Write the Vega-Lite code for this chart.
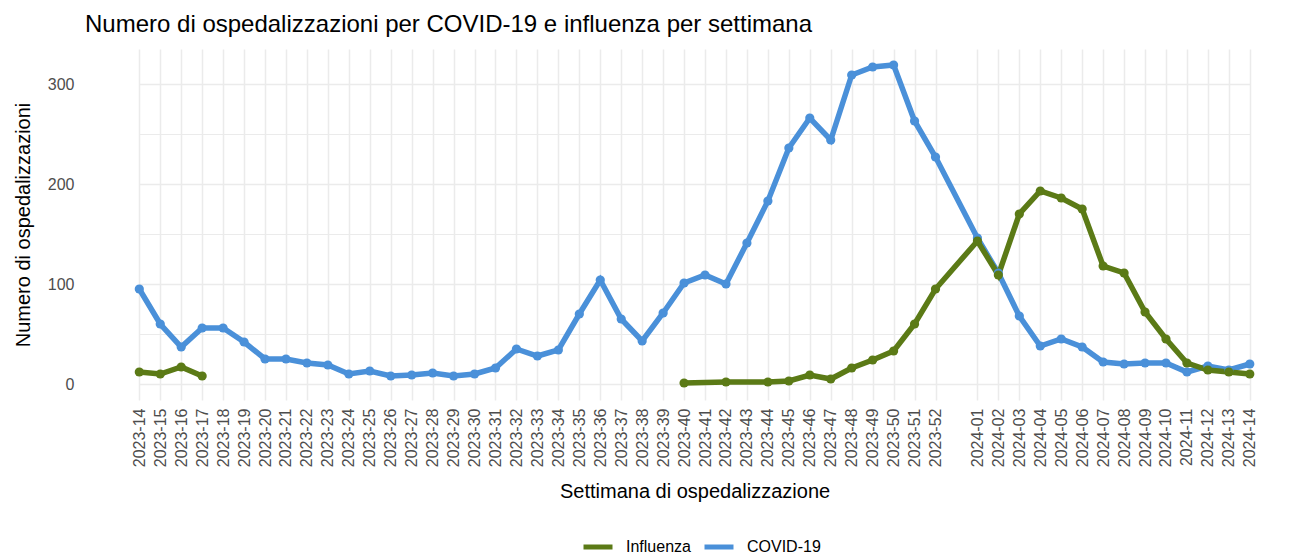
{
  "$schema": "https://vega.github.io/schema/vega-lite/v6.json",
  "width": 1219,
  "height": 351,
  "autosize": {"type": "none"},
  "padding": {"left": 85, "top": 49, "right": 0, "bottom": 154},
  "background": "white",
  "config": {"font": "Liberation Sans", "view": {"stroke": null}},
  "title": {"text": "Numero di ospedalizzazioni per COVID-19 e influenza per settimana", "anchor": "start", "fontSize": 24, "fontWeight": "normal", "font": "Liberation Sans", "color": "black", "offset": 12, "frame": "group"},
  "data": {"values": [
    {"settimana": "2023-14", "tipo": "COVID-19", "n": 95},
    {"settimana": "2023-15", "tipo": "COVID-19", "n": 60},
    {"settimana": "2023-16", "tipo": "COVID-19", "n": 37},
    {"settimana": "2023-17", "tipo": "COVID-19", "n": 56},
    {"settimana": "2023-18", "tipo": "COVID-19", "n": 56},
    {"settimana": "2023-19", "tipo": "COVID-19", "n": 42},
    {"settimana": "2023-20", "tipo": "COVID-19", "n": 25},
    {"settimana": "2023-21", "tipo": "COVID-19", "n": 25},
    {"settimana": "2023-22", "tipo": "COVID-19", "n": 21},
    {"settimana": "2023-23", "tipo": "COVID-19", "n": 19},
    {"settimana": "2023-24", "tipo": "COVID-19", "n": 10},
    {"settimana": "2023-25", "tipo": "COVID-19", "n": 13},
    {"settimana": "2023-26", "tipo": "COVID-19", "n": 8},
    {"settimana": "2023-27", "tipo": "COVID-19", "n": 9},
    {"settimana": "2023-28", "tipo": "COVID-19", "n": 11},
    {"settimana": "2023-29", "tipo": "COVID-19", "n": 8},
    {"settimana": "2023-30", "tipo": "COVID-19", "n": 10},
    {"settimana": "2023-31", "tipo": "COVID-19", "n": 16},
    {"settimana": "2023-32", "tipo": "COVID-19", "n": 35},
    {"settimana": "2023-33", "tipo": "COVID-19", "n": 28},
    {"settimana": "2023-34", "tipo": "COVID-19", "n": 34},
    {"settimana": "2023-35", "tipo": "COVID-19", "n": 70},
    {"settimana": "2023-36", "tipo": "COVID-19", "n": 104},
    {"settimana": "2023-37", "tipo": "COVID-19", "n": 65},
    {"settimana": "2023-38", "tipo": "COVID-19", "n": 43},
    {"settimana": "2023-39", "tipo": "COVID-19", "n": 71},
    {"settimana": "2023-40", "tipo": "COVID-19", "n": 101},
    {"settimana": "2023-41", "tipo": "COVID-19", "n": 109},
    {"settimana": "2023-42", "tipo": "COVID-19", "n": 100},
    {"settimana": "2023-43", "tipo": "COVID-19", "n": 141},
    {"settimana": "2023-44", "tipo": "COVID-19", "n": 183},
    {"settimana": "2023-45", "tipo": "COVID-19", "n": 236},
    {"settimana": "2023-46", "tipo": "COVID-19", "n": 266},
    {"settimana": "2023-47", "tipo": "COVID-19", "n": 244},
    {"settimana": "2023-48", "tipo": "COVID-19", "n": 309},
    {"settimana": "2023-49", "tipo": "COVID-19", "n": 317},
    {"settimana": "2023-50", "tipo": "COVID-19", "n": 319},
    {"settimana": "2023-51", "tipo": "COVID-19", "n": 263},
    {"settimana": "2023-52", "tipo": "COVID-19", "n": 227},
    {"settimana": "2024-01", "tipo": "COVID-19", "n": 146},
    {"settimana": "2024-02", "tipo": "COVID-19", "n": 111},
    {"settimana": "2024-03", "tipo": "COVID-19", "n": 68},
    {"settimana": "2024-04", "tipo": "COVID-19", "n": 38},
    {"settimana": "2024-05", "tipo": "COVID-19", "n": 45},
    {"settimana": "2024-06", "tipo": "COVID-19", "n": 37},
    {"settimana": "2024-07", "tipo": "COVID-19", "n": 22},
    {"settimana": "2024-08", "tipo": "COVID-19", "n": 20},
    {"settimana": "2024-09", "tipo": "COVID-19", "n": 21},
    {"settimana": "2024-10", "tipo": "COVID-19", "n": 21},
    {"settimana": "2024-11", "tipo": "COVID-19", "n": 12},
    {"settimana": "2024-12", "tipo": "COVID-19", "n": 18},
    {"settimana": "2024-13", "tipo": "COVID-19", "n": 14},
    {"settimana": "2024-14", "tipo": "COVID-19", "n": 20},
    {"settimana": "2023-14", "tipo": "Influenza", "n": 12},
    {"settimana": "2023-15", "tipo": "Influenza", "n": 10},
    {"settimana": "2023-16", "tipo": "Influenza", "n": 17},
    {"settimana": "2023-17", "tipo": "Influenza", "n": 8},
    {"settimana": "2023-18", "tipo": "Influenza", "n": null},
    {"settimana": "2023-19", "tipo": "Influenza", "n": null},
    {"settimana": "2023-20", "tipo": "Influenza", "n": null},
    {"settimana": "2023-21", "tipo": "Influenza", "n": null},
    {"settimana": "2023-22", "tipo": "Influenza", "n": null},
    {"settimana": "2023-23", "tipo": "Influenza", "n": null},
    {"settimana": "2023-24", "tipo": "Influenza", "n": null},
    {"settimana": "2023-25", "tipo": "Influenza", "n": null},
    {"settimana": "2023-26", "tipo": "Influenza", "n": null},
    {"settimana": "2023-27", "tipo": "Influenza", "n": null},
    {"settimana": "2023-28", "tipo": "Influenza", "n": null},
    {"settimana": "2023-29", "tipo": "Influenza", "n": null},
    {"settimana": "2023-30", "tipo": "Influenza", "n": null},
    {"settimana": "2023-31", "tipo": "Influenza", "n": null},
    {"settimana": "2023-32", "tipo": "Influenza", "n": null},
    {"settimana": "2023-33", "tipo": "Influenza", "n": null},
    {"settimana": "2023-34", "tipo": "Influenza", "n": null},
    {"settimana": "2023-35", "tipo": "Influenza", "n": null},
    {"settimana": "2023-36", "tipo": "Influenza", "n": null},
    {"settimana": "2023-37", "tipo": "Influenza", "n": null},
    {"settimana": "2023-38", "tipo": "Influenza", "n": null},
    {"settimana": "2023-39", "tipo": "Influenza", "n": null},
    {"settimana": "2023-40", "tipo": "Influenza", "n": 1},
    {"settimana": "2023-42", "tipo": "Influenza", "n": 2},
    {"settimana": "2023-44", "tipo": "Influenza", "n": 2},
    {"settimana": "2023-45", "tipo": "Influenza", "n": 3},
    {"settimana": "2023-46", "tipo": "Influenza", "n": 9},
    {"settimana": "2023-47", "tipo": "Influenza", "n": 5},
    {"settimana": "2023-48", "tipo": "Influenza", "n": 16},
    {"settimana": "2023-49", "tipo": "Influenza", "n": 24},
    {"settimana": "2023-50", "tipo": "Influenza", "n": 33},
    {"settimana": "2023-51", "tipo": "Influenza", "n": 60},
    {"settimana": "2023-52", "tipo": "Influenza", "n": 95},
    {"settimana": "2024-01", "tipo": "Influenza", "n": 143},
    {"settimana": "2024-02", "tipo": "Influenza", "n": 109},
    {"settimana": "2024-03", "tipo": "Influenza", "n": 170},
    {"settimana": "2024-04", "tipo": "Influenza", "n": 193},
    {"settimana": "2024-05", "tipo": "Influenza", "n": 186},
    {"settimana": "2024-06", "tipo": "Influenza", "n": 175},
    {"settimana": "2024-07", "tipo": "Influenza", "n": 118},
    {"settimana": "2024-08", "tipo": "Influenza", "n": 111},
    {"settimana": "2024-09", "tipo": "Influenza", "n": 72},
    {"settimana": "2024-10", "tipo": "Influenza", "n": 45},
    {"settimana": "2024-11", "tipo": "Influenza", "n": 21},
    {"settimana": "2024-12", "tipo": "Influenza", "n": 14},
    {"settimana": "2024-13", "tipo": "Influenza", "n": 12},
    {"settimana": "2024-14", "tipo": "Influenza", "n": 10}
  ]},
  "mark": {"type": "line", "strokeWidth": 5.5, "invalid": "break-paths-filter-domains", "point": {"filled": true, "size": 85, "opacity": 1}},
  "encoding": {
    "x": {
      "field": "settimana", "type": "ordinal",
      "scale": {"type": "point", "padding": 0, "range": [54.3, 1164.8], "domain": ["2023-14","2023-15","2023-16","2023-17","2023-18","2023-19","2023-20","2023-21","2023-22","2023-23","2023-24","2023-25","2023-26","2023-27","2023-28","2023-29","2023-30","2023-31","2023-32","2023-33","2023-34","2023-35","2023-36","2023-37","2023-38","2023-39","2023-40","2023-41","2023-42","2023-43","2023-44","2023-45","2023-46","2023-47","2023-48","2023-49","2023-50","2023-51","2023-52"," ","2024-01","2024-02","2024-03","2024-04","2024-05","2024-06","2024-07","2024-08","2024-09","2024-10","2024-11","2024-12","2024-13","2024-14"]},
      "axis": {
        "values": ["2023-14","2023-15","2023-16","2023-17","2023-18","2023-19","2023-20","2023-21","2023-22","2023-23","2023-24","2023-25","2023-26","2023-27","2023-28","2023-29","2023-30","2023-31","2023-32","2023-33","2023-34","2023-35","2023-36","2023-37","2023-38","2023-39","2023-40","2023-41","2023-42","2023-43","2023-44","2023-45","2023-46","2023-47","2023-48","2023-49","2023-50","2023-51","2023-52","2024-01","2024-02","2024-03","2024-04","2024-05","2024-06","2024-07","2024-08","2024-09","2024-10","2024-11","2024-12","2024-13","2024-14"],
        "labelAngle": -90, "labelAlign": "right", "labelBaseline": "middle",
        "labelFontSize": 16, "labelColor": "#4d4d4d", "labelPadding": 8,
        "ticks": false, "tickSize": 0, "domain": false,
        "grid": true, "gridColor": "#ebebeb", "gridWidth": 1.5,
        "title": "Settimana di ospedalizzazione", "titleFontSize": 20, "titleFontWeight": "normal", "titleColor": "black", "titlePadding": 15
      }
    },
    "y": {
      "field": "n", "type": "quantitative",
      "scale": {"domain": [-16, 335], "nice": false, "zero": false},
      "axis": {
        "values": [0, 50, 100, 150, 200, 250, 300],
        "labelExpr": "datum.value % 100 === 0 ? datum.label : ''",
        "labelFontSize": 16, "labelColor": "#4d4d4d", "labelPadding": 11,
        "ticks": false, "tickSize": 0, "domain": false,
        "grid": true, "gridColor": "#ebebeb",
        "gridWidth": {"condition": {"test": "datum.value % 100 !== 0", "value": 1}, "value": 1.5},
        "title": "Numero di ospedalizzazioni", "titleFontSize": 20, "titleFontWeight": "normal", "titleColor": "black", "titlePadding": 14
      }
    },
    "color": {
      "field": "tipo", "type": "nominal",
      "scale": {"domain": ["Influenza", "COVID-19"], "range": ["#5B7A16", "#4A90D9"]},
      "legend": {
        "orient": "none", "legendX": 496, "legendY": 481, "direction": "horizontal", "title": null,
        "symbolType": "stroke", "symbolStrokeWidth": 5, "symbolSize": 841,
        "labelFontSize": 16, "labelColor": "black", "labelOffset": 11, "columnPadding": 3
      }
    }
  }
}
